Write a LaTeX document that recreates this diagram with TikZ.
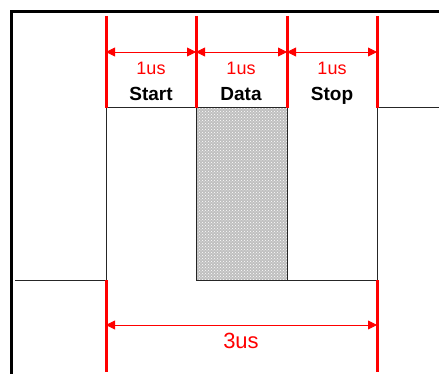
\documentclass[tikz,border=0pt]{standalone}
\usepackage{fontspec}
\setmainfont{Liberation Sans}
\usetikzlibrary{arrows.meta,positioning,patterns}

\begin{document}
\begin{tikzpicture}[
    x=1pt, y=-1pt,
    bound/.style={red, line width=3pt},
    dim/.style={red, line width=0.9pt, {Triangle[length=9pt,width=9pt]}-{Triangle[length=9pt,width=9pt]}},
    sig/.style={black!85, line width=1pt},
    lbl/.style={anchor=base, font=\fontsize{19}{22}\selectfont\bfseries},
    dur/.style={anchor=base, text=red, font=\fontsize{18}{21}\selectfont}
]
\useasboundingbox (0,0) rectangle (439,374);

% Frame
\draw[line width=3pt] (11.5,374) -- (11.5,11.5) -- (439,11.5);

% Bit boundaries
\foreach \n/\x in {a/106, b/196, c/287, d/377} {
    \coordinate (top-\n) at (\x,16);
    \coordinate (hi-\n) at (\x,108);
    \coordinate (dim-\n) at (\x,52);
    \coordinate (lo-\n) at (\x,280);
    \coordinate (span-\n) at (\x,325);
    \coordinate (end-\n) at (\x,372);
}
\coordinate (idle) at (15,280);
\coordinate (rest) at (439,108);

% Signal
\draw[sig] (idle) -- (lo-a) -- (hi-a) -- (hi-b);
\draw[sig, preaction={fill=gray!50}, pattern=crosshatch dots, pattern color=white] (hi-b) rectangle (lo-c);
\draw[sig] (lo-c) -- (lo-d) -- (hi-d) -- (rest);

% Red markers
\foreach \n in {a, b, c, d} {
    \draw[bound] (top-\n) -- (hi-\n);
}
\draw[bound] (lo-a) -- (end-a);
\draw[bound] (lo-d) -- (end-d);

% Durations
\foreach \i/\j in {a/b, b/c, c/d} {
    \draw[dim] (dim-\i) -- (dim-\j);
}
\draw[dim] (span-a) -- (span-d);

% Labels
\node[dur] (t1) at (151,75) {1us};
\node[dur] (t2) at (241,75) {1us};
\node[dur] (t3) at (332,75) {1us};
\node[lbl] (start) at (151,101) {Start};
\node[lbl] (data) at (241,101) {Data};
\node[lbl] (stop) at (332,101) {Stop};
\node[dur, font=\fontsize{22}{26}\selectfont] (total) at (241,348) {3us};

\end{tikzpicture}
\end{document}
